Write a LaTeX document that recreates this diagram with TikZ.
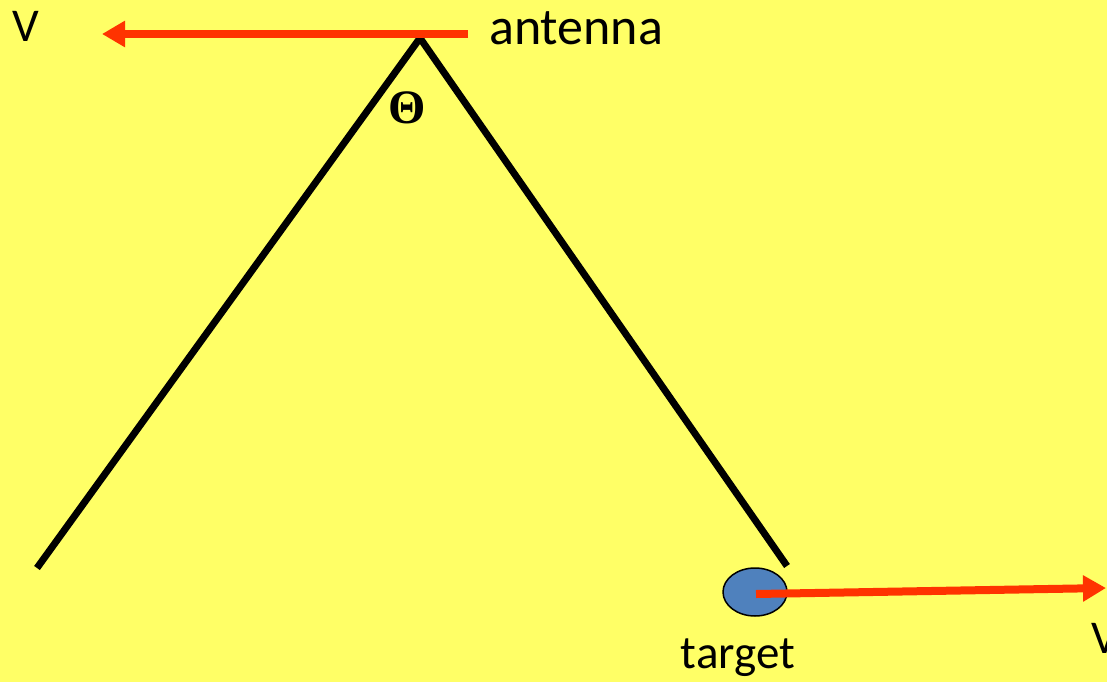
\documentclass[tikz,border=0pt]{standalone}
\usepackage{fontspec}
\setmainfont{Carlito}
\newfontfamily\thetafont{Liberation Serif}
\usetikzlibrary{arrows.meta,positioning,calc,shapes.geometric}
\definecolor{bgyellow}{HTML}{FFFF66}
\definecolor{velred}{HTML}{FF3300}
\definecolor{targetblue}{HTML}{4F81BD}

\begin{document}
\begin{tikzpicture}[x=1pt,y=-1pt,
  beam/.style={line width=7pt,black},
  velarrow/.style={line width=8pt,velred,-{Triangle[length=23pt,width=25pt]}},
  label/.style={inner sep=0pt,font=\fontsize{47}{56}\selectfont}]
  \useasboundingbox (0,0) rectangle (1107,682);
  \fill[bgyellow] (0,0) rectangle (1107,682); % 背景
  \coordinate (apex) at (420,38); % アンテナの位置
  \coordinate (leftend) at (37,568); % 左のビームの端
  \coordinate (rightend) at (787,566); % 右のビームの端
  \draw[beam] (leftend) -- (apex) -- (rightend); % ビームの境界
  \coordinate (antstart) at (468,34); % アンテナの右端
  \coordinate (antv) at (102,34); % 速度の矢印の先
  \draw[velarrow] (antstart) -- (antv); % アンテナの速度
  \node[label,anchor=base west,font=\fontsize{52}{60}\selectfont] (antenna) at (489,45) {antenna};
  \node[label,anchor=base west] (vleft) at (12,42) {V};
  \node[inner sep=0pt,anchor=base,font=\thetafont\bfseries\fontsize{48}{54}\selectfont] (theta) at (407,124) {Θ};
  \node[ellipse,draw=black,line width=1.5pt,fill=targetblue,minimum width=64pt,minimum height=48pt,inner sep=0pt] (target) at (755,592) {}; % 目標
  \coordinate (tgtv) at (1106,588); % 目標の速度の矢印の先
  \draw[velarrow] ($(target.center)+(1,2)$) -- (tgtv); % 目標の速度
  \node[label,anchor=base] (tgtlabel) at (738,668) {target};
  \node[label,anchor=base west] (vright) at (1091,653) {V};
\end{tikzpicture}
\end{document}
